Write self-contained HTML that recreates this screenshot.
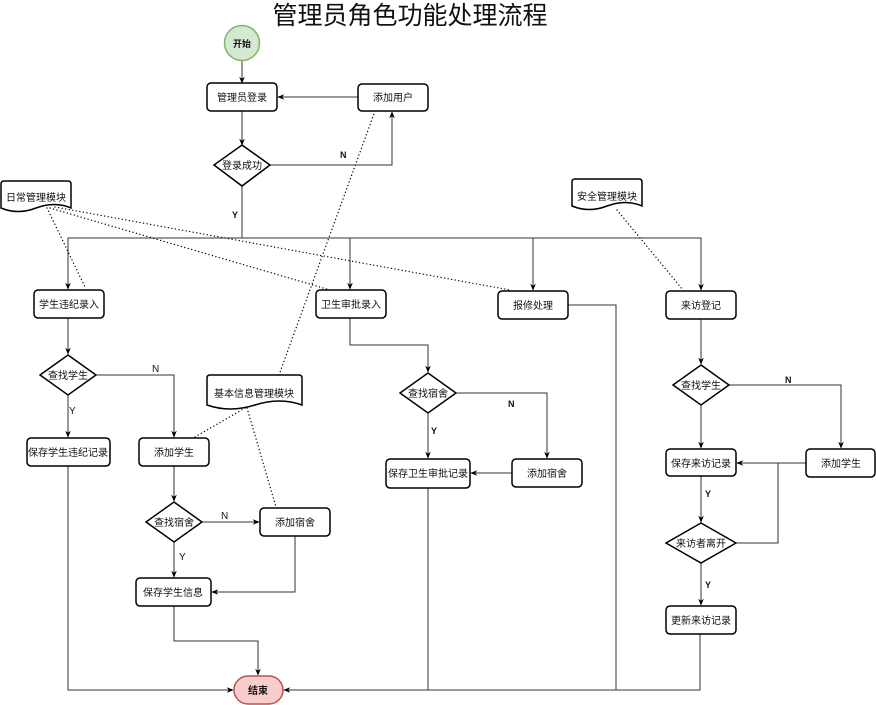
<!DOCTYPE html>
<html><head><meta charset="utf-8"><style>
html,body{margin:0;padding:0;background:#fff;}
svg{display:block;}
text{font-family:"Liberation Sans","Noto Sans CJK SC",sans-serif;font-size:10px;fill:#111;}
.b{fill:#fff;stroke:#000;stroke-width:1.5;}
.l{fill:none;stroke:#333;stroke-width:1;}
.d{fill:none;stroke:#000;stroke-width:1.3;stroke-dasharray:0.1 3.5;stroke-linecap:round;}
</style></head><body>
<svg width="876" height="705" viewBox="0 0 876 705" xmlns="http://www.w3.org/2000/svg">
<defs><marker id="a" viewBox="0 0 10 10" refX="9" refY="5" markerWidth="7" markerHeight="7" orient="auto"><path d="M0,1 L10,5 L0,9 L3,5 Z" fill="#000"/></marker></defs>
<text x="410" y="24" text-anchor="middle" style="font-size:25px">管理员角色功能处理流程</text>

<g class="l" marker-end="url(#a)">
<path d="M242 61 V83"/>
<path d="M358 97 H278"/>
<path d="M242 111 V145"/>
<path d="M270 165 H392 V112"/>
<path d="M242 186 V238 H68 V289"/>
<path d="M242 238 H350 V289"/>
<path d="M350 238 H533 V290"/>
<path d="M533 238 H701 V290"/>
<path d="M68 318 V354"/>
<path d="M96 375 H174 V437"/>
<path d="M68 395 V437"/>
<path d="M174 466 V501"/>
<path d="M202 522 H259"/>
<path d="M174 542 V577"/>
<path d="M295 536 V592 H212"/>
<path d="M174 606 V641 H258 V675"/>
<path d="M68 466 V690 H233"/>
<path d="M350 318 V345 H428 V372"/>
<path d="M456 393 H547 V458"/>
<path d="M428 413 V458"/>
<path d="M512 473 H471"/>
<path d="M700 634 V690 H284"/>
<path d="M701 319 V364"/>
<path d="M729 385 H841 V448"/>
<path d="M701 405 V448"/>
<path d="M806 463 H737"/>
<path d="M701 476 V522"/>
<path d="M701 563 V605"/>
</g>
<g class="l">
<path d="M428 488 V690"/>
<path d="M568 305 H616 V690"/>
<path d="M736 543 H778 V463"/>
</g>

<g class="d">
<path d="M47 208 L86 289"/>
<path d="M50 208 L330 290"/>
<path d="M55 207 L510 290"/>
<path d="M617 210 L683 290"/>
<path d="M375 111 L279 375"/>
<path d="M245 408 L195 437"/>
<path d="M247 408 L276 507"/>
</g>

<circle cx="242" cy="43" r="17.5" fill="#d5e8d4" stroke="#82b366" stroke-width="1.5"/>
<text x="242" y="47" text-anchor="middle" style="font-weight:bold;font-size:9px">开始</text>
<rect x="234" y="676" width="49" height="28" rx="14" fill="#f8cecc" stroke="#b85450" stroke-width="1.5"/>
<text x="258" y="694" text-anchor="middle" style="font-weight:bold">结束</text>

<g>
<rect class="b" x="207" y="83" width="70" height="28" rx="4"/><text x="242" y="101" text-anchor="middle">管理员登录</text>
<rect class="b" x="358" y="84" width="70" height="27" rx="4"/><text x="393" y="101" text-anchor="middle">添加用户</text>
<rect class="b" x="34" y="290" width="70" height="28" rx="4"/><text x="69" y="308" text-anchor="middle">学生违纪录入</text>
<rect class="b" x="316" y="290" width="70" height="28" rx="4"/><text x="351" y="308" text-anchor="middle">卫生审批录入</text>
<rect class="b" x="498" y="291" width="70" height="28" rx="4"/><text x="533" y="309" text-anchor="middle">报修处理</text>
<rect class="b" x="666" y="291" width="70" height="28" rx="4"/><text x="701" y="309" text-anchor="middle">来访登记</text>
<rect class="b" x="27" y="438" width="83" height="28" rx="4"/><text x="68" y="456" text-anchor="middle">保存学生违纪记录</text>
<rect class="b" x="139" y="438" width="70" height="28" rx="4"/><text x="174" y="456" text-anchor="middle">添加学生</text>
<rect class="b" x="260" y="508" width="70" height="28" rx="4"/><text x="295" y="526" text-anchor="middle">添加宿舍</text>
<rect class="b" x="136" y="578" width="75" height="28" rx="4"/><text x="173" y="596" text-anchor="middle">保存学生信息</text>
<rect class="b" x="386" y="459" width="84" height="29" rx="4"/><text x="428" y="477" text-anchor="middle">保存卫生审批记录</text>
<rect class="b" x="512" y="459" width="70" height="28" rx="4"/><text x="547" y="477" text-anchor="middle">添加宿舍</text>
<rect class="b" x="666" y="449" width="70" height="27" rx="4"/><text x="701" y="467" text-anchor="middle">保存来访记录</text>
<rect class="b" x="806" y="449" width="69" height="28" rx="4"/><text x="841" y="467" text-anchor="middle">添加学生</text>
<rect class="b" x="666" y="606" width="70" height="28" rx="4"/><text x="701" y="624" text-anchor="middle">更新来访记录</text>
</g>

<polygon class="b" points="242,145 270,165 242,186 214,165"/><text x="242" y="169" text-anchor="middle">登录成功</text>
<polygon class="b" points="68,355 96,375 68,395 40,375"/><text x="68" y="379" text-anchor="middle">查找学生</text>
<polygon class="b" points="174,502 202,522 174,542 146,522"/><text x="174" y="526" text-anchor="middle">查找宿舍</text>
<polygon class="b" points="428,373 456,393 428,413 400,393"/><text x="428" y="397" text-anchor="middle">查找宿舍</text>
<polygon class="b" points="701,365 729,385 701,405 673,385"/><text x="701" y="389" text-anchor="middle">查找学生</text>
<polygon class="b" points="701,523 736,543 701,563 666,543"/><text x="701" y="547" text-anchor="middle">来访者离开</text>

<path class="b" d="M1 184 Q1 181 4 181 L68 181 Q71 181 71 184 L71 208 Q55 201 36 208 Q18 215 1 208 Z"/><text x="36" y="201" text-anchor="middle">日常管理模块</text>
<path class="b" d="M572 182 Q572 179 575 179 L639 179 Q642 179 642 182 L642 206 Q626 199 607 206 Q589 213 572 206 Z"/><text x="607" y="200" text-anchor="middle">安全管理模块</text>
<path class="b" d="M207 378 Q207 375 210 375 L299 375 Q302 375 302 378 L302 405 Q280 397 255 405 Q230 413 207 405 Z"/><text x="254" y="397" text-anchor="middle">基本信息管理模块</text>

<g style="font-size:9px">
<text x="340" y="158" style="font-weight:bold;font-size:9px">N</text>
<text x="232" y="218" style="font-weight:bold;font-size:9px">Y</text>
<text x="152" y="372">N</text>
<text x="69" y="414">Y</text>
<text x="221" y="519">N</text>
<text x="179" y="560">Y</text>
<text x="508" y="407" style="font-weight:bold;font-size:9px">N</text>
<text x="431" y="434" style="font-weight:bold;font-size:9px">Y</text>
<text x="785" y="383" style="font-weight:bold;font-size:9px">N</text>
<text x="705" y="497" style="font-weight:bold;font-size:9px">Y</text>
<text x="705" y="588" style="font-weight:bold;font-size:9px">Y</text>
</g>
</svg>
</body></html>
